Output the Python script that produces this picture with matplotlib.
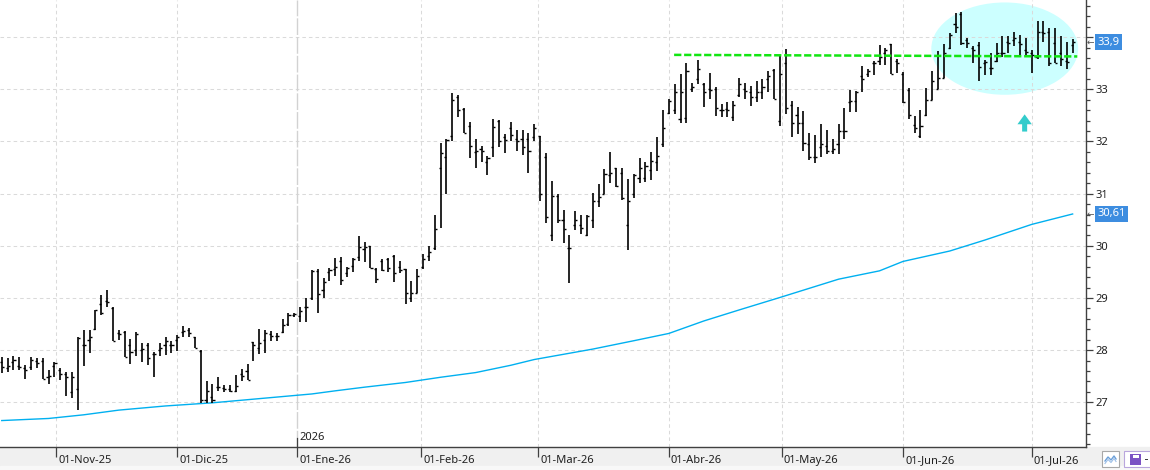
import numpy as np
import pandas as pd
import matplotlib
matplotlib.use("Agg")
import matplotlib.pyplot as plt
import matplotlib.transforms as mtransforms
from matplotlib.collections import LineCollection
from matplotlib.patches import Ellipse, Polygon, Rectangle
from matplotlib.ticker import MultipleLocator

plt.rcParams["font.family"] = ["Noto Sans", "DejaVu Sans"]

# ---------------------------------------------------------------------------
# Data (daily OHLC, Spanish market calendar)
# ---------------------------------------------------------------------------

HOLIDAYS = ["2025-12-25", "2025-12-26", "2026-01-01",
            "2026-04-03", "2026-04-06", "2026-05-01"]
dates = pd.bdate_range("2025-10-20", "2026-07-10")
dates = dates[~dates.isin(pd.to_datetime(HOLIDAYS))]

opens = [
    27.78, 27.65, 27.78, 27.70, 27.65, 27.67, 27.80, 27.80, 27.48, 27.70,
    27.62, 27.55, 27.20, 27.26, 28.09, 28.20, 28.40, 28.88, 28.95, 28.80,
    28.32, 28.35, 28.10, 28.00, 28.00, 28.10, 27.93, 28.00, 28.10, 28.10,
    28.20, 28.35, 28.38, 28.25, 27.98, 27.05, 27.10, 27.30, 27.28, 27.25,
    27.22, 27.54, 27.60, 28.15, 28.05, 28.20, 28.30, 28.28, 28.35, 28.50,
    28.68, 28.65, 28.82, 29.00, 29.52, 29.15, 29.50, 29.55, 29.70, 29.48,
    29.62, 29.78, 29.94, 30.00, 29.56, 29.71, 29.74, 29.80, 29.60, 29.55,
    29.00, 29.10, 29.60, 29.80, 29.95, 31.50, 31.70, 32.11, 32.85, 32.62,
    32.30, 31.80, 31.85, 31.60, 31.90, 32.40, 32.08, 32.25, 32.05, 32.04,
    32.05, 32.08, 32.10, 31.70, 30.21, 30.95, 30.50, 29.95, 30.40, 30.40,
    30.21, 30.50, 30.85, 31.00, 31.35, 31.50, 31.40, 30.40, 30.99, 31.30,
    31.30, 31.45, 31.60, 31.95, 32.55, 32.60, 32.43, 32.45, 33.00, 33.20,
    33.10, 33.00, 33.00, 32.60, 32.62, 32.47, 32.90, 33.00, 32.95, 32.85,
    32.95, 33.20, 33.37, 32.40, 33.50, 32.70, 32.50, 32.35, 31.95, 31.70,
    31.90, 31.92, 31.82, 31.95, 32.20, 32.75, 32.78, 33.25, 33.30, 33.50,
    33.55, 33.70, 33.87, 33.55, 33.30, 32.98, 32.32, 32.10, 32.51, 32.80,
    33.00, 33.21, 33.80, 34.25, 34.45, 33.95, 33.80, 33.85, 33.50, 33.40,
    33.55, 33.70, 33.90, 33.95, 33.90, 33.75, 33.70, 33.62, 34.10, 34.10,
    33.88, 33.70, 33.55, 33.85,
]

highs = [
    27.86, 27.84, 27.89, 27.86, 27.72, 27.86, 27.84, 27.84, 27.62, 27.78,
    27.65, 27.59, 27.59, 28.25, 28.38, 28.39, 28.77, 29.06, 29.15, 28.82,
    28.39, 28.37, 28.21, 28.35, 28.13, 28.14, 27.97, 28.13, 28.25, 28.18,
    28.29, 28.46, 28.42, 28.26, 28.00, 27.40, 27.36, 27.48, 27.33, 27.33,
    27.52, 27.63, 27.73, 28.16, 28.40, 28.39, 28.37, 28.33, 28.59, 28.71,
    28.72, 28.82, 28.99, 29.54, 29.55, 29.38, 29.57, 29.76, 29.78, 29.60,
    29.76, 30.19, 30.07, 30.00, 29.57, 29.74, 29.77, 29.82, 29.71, 29.55,
    29.33, 29.55, 29.84, 30.00, 30.59, 31.98, 32.04, 32.92, 32.89, 32.65,
    32.37, 32.05, 31.91, 31.72, 32.44, 32.42, 32.14, 32.37, 32.22, 32.22,
    32.16, 32.33, 32.10, 31.77, 31.24, 30.99, 30.69, 30.21, 30.67, 30.59,
    30.59, 31.01, 31.18, 31.47, 31.80, 31.50, 31.50, 31.28, 31.37, 31.68,
    31.61, 31.80, 32.09, 32.60, 32.81, 33.10, 33.29, 33.50, 33.13, 33.57,
    33.13, 33.31, 33.04, 32.72, 32.75, 32.78, 33.21, 33.13, 33.06, 33.15,
    33.19, 33.36, 33.38, 33.64, 33.77, 32.78, 32.67, 32.59, 32.16, 32.12,
    32.33, 32.22, 32.04, 32.33, 32.64, 32.99, 32.97, 33.45, 33.39, 33.55,
    33.85, 33.80, 33.87, 33.59, 33.34, 33.02, 32.48, 32.60, 33.02, 33.35,
    33.73, 33.87, 34.07, 34.46, 34.48, 33.99, 33.83, 33.90, 33.57, 33.70,
    33.88, 34.02, 34.03, 34.10, 34.05, 33.99, 33.75, 34.30, 34.31, 34.17,
    34.17, 34.02, 33.91, 33.96,
]

lows = [
    27.57, 27.59, 27.61, 27.62, 27.45, 27.62, 27.65, 27.44, 27.35, 27.49,
    27.43, 27.13, 27.08, 26.85, 27.70, 27.94, 28.39, 28.67, 28.83, 28.18,
    28.20, 27.86, 27.73, 27.89, 27.78, 27.72, 27.49, 27.89, 27.91, 27.94,
    27.99, 28.26, 28.25, 28.04, 26.99, 26.99, 26.99, 27.22, 27.19, 27.19,
    27.20, 27.41, 27.42, 27.80, 27.92, 27.95, 28.18, 28.18, 28.32, 28.46,
    28.63, 28.53, 28.53, 28.97, 28.71, 29.00, 29.33, 29.42, 29.24, 29.41,
    29.50, 29.70, 29.68, 29.58, 29.28, 29.52, 29.50, 29.31, 29.47, 28.88,
    28.93, 29.09, 29.55, 29.70, 29.92, 30.35, 30.99, 32.00, 32.46, 32.16,
    31.69, 31.50, 31.60, 31.36, 31.71, 31.90, 31.77, 32.00, 31.82, 31.74,
    31.40, 32.00, 30.85, 30.43, 30.10, 30.44, 30.06, 29.29, 30.30, 30.23,
    30.18, 30.34, 30.75, 30.99, 31.20, 31.13, 30.88, 29.92, 30.91, 31.20,
    31.23, 31.27, 31.44, 31.89, 32.52, 32.52, 32.36, 32.36, 32.94, 33.10,
    32.67, 32.81, 32.49, 32.46, 32.46, 32.39, 32.85, 32.81, 32.68, 32.75,
    32.81, 32.95, 32.81, 32.30, 32.53, 32.08, 32.14, 31.82, 31.64, 31.59,
    31.70, 31.76, 31.76, 31.76, 32.05, 32.57, 32.57, 32.94, 33.24, 33.27,
    33.47, 33.47, 33.29, 33.31, 32.73, 32.44, 32.17, 32.06, 32.49, 32.80,
    33.00, 33.21, 33.77, 34.07, 33.85, 33.80, 33.51, 33.15, 33.27, 33.27,
    33.52, 33.61, 33.70, 33.83, 33.66, 33.66, 33.31, 33.59, 33.91, 33.44,
    33.50, 33.45, 33.38, 33.70,
]

closes = [
    27.67, 27.70, 27.81, 27.68, 27.62, 27.81, 27.75, 27.45, 27.50, 27.75,
    27.55, 27.49, 27.48, 28.24, 28.09, 28.25, 28.77, 28.71, 28.92, 28.18,
    28.30, 27.87, 27.97, 28.30, 28.03, 27.85, 27.92, 28.05, 28.17, 28.10,
    28.25, 28.36, 28.33, 28.04, 27.05, 27.22, 27.05, 27.29, 27.25, 27.22,
    27.31, 27.50, 27.43, 28.10, 28.14, 28.33, 28.27, 28.27, 28.49, 28.68,
    28.69, 28.75, 28.82, 29.52, 29.07, 29.30, 29.53, 29.60, 29.35, 29.57,
    29.75, 29.97, 29.97, 29.58, 29.37, 29.54, 29.57, 29.47, 29.53, 29.09,
    29.10, 29.42, 29.75, 29.88, 30.32, 31.77, 32.02, 32.79, 32.60, 32.16,
    31.92, 31.82, 31.82, 31.68, 32.27, 32.00, 32.03, 32.12, 32.01, 31.90,
    31.82, 32.25, 30.99, 30.56, 30.95, 30.50, 30.32, 29.95, 30.50, 30.35,
    30.57, 30.85, 30.93, 31.37, 31.40, 31.14, 30.91, 30.86, 31.36, 31.50,
    31.53, 31.62, 31.72, 32.25, 32.77, 32.95, 32.95, 33.35, 33.05, 33.38,
    32.95, 32.98, 32.65, 32.60, 32.60, 32.70, 33.10, 32.97, 32.85, 32.95,
    33.05, 33.25, 32.82, 33.30, 32.64, 32.35, 32.35, 31.97, 31.70, 31.70,
    31.96, 31.82, 31.85, 32.20, 32.20, 32.78, 32.95, 33.20, 33.35, 33.50,
    33.62, 33.75, 33.30, 33.50, 32.75, 32.50, 32.25, 32.30, 32.80, 33.15,
    33.21, 33.69, 34.05, 34.19, 33.88, 33.89, 33.75, 33.42, 33.52, 33.40,
    33.69, 33.69, 33.89, 33.98, 33.87, 33.72, 33.65, 34.10, 34.07, 33.51,
    33.51, 33.58, 33.52, 33.90,
]

# long moving average, read at a handful of bars
ma_bars = [0, 8, 14, 20, 28, 36, 45, 53, 57, 62, 69, 75, 81, 87, 91,
           101, 108, 114, 120, 126, 133, 137, 143, 150, 154, 162, 168, 176, 183]
ma_values = [26.65, 26.69, 26.76, 26.85, 26.93, 26.99, 27.08, 27.16, 27.22,
             27.29, 27.38, 27.48, 27.57, 27.71, 27.82, 28.02, 28.18, 28.32,
             28.56, 28.77, 29.01, 29.15, 29.36, 29.52, 29.70, 29.90, 30.11,
             30.41, 30.61]

# resistance line (green, dashed)
resistance_bars = [114.9, 183.8]
resistance_values = [33.66, 33.63]

month_starts = ["2025-11-01", "2025-12-01", "2026-01-01", "2026-02-01",
                "2026-03-01", "2026-04-01", "2026-05-01", "2026-06-01",
                "2026-07-01"]
month_labels = ["01-Nov-25", "01-Dic-25", "01-Ene-26", "01-Feb-26",
                "01-Mar-26", "01-Abr-26", "01-May-26", "01-Jun-26",
                "01-Jul-26"]
year_start = "2026-01-01"
year_label = "2026"

price_ticks = [27, 28, 29, 30, 31, 32, 33, 34]


# ---------------------------------------------------------------------------
# Layout helpers
# ---------------------------------------------------------------------------

W, H = 1150, 470
AX_RIGHT_PX = 1085.5
AX_BOTTOM_PX = 447

fig = plt.figure(figsize=(W / 100, H / 100), dpi=100)
fig.patch.set_facecolor("white")

# grey date band under the plot (zorder below the axes so labels stay on top)
fig.patches.append(Rectangle((0, 0), 1, (H - AX_BOTTOM_PX) / H,
                             transform=fig.transFigure, color="#f0f0f0", zorder=-2))
fig.patches.append(Rectangle((0, 0), 1, 4 / H,
                             transform=fig.transFigure, color="#f8f8f8", zorder=-1))

ax = fig.add_axes([0, (H - AX_BOTTOM_PX) / H, AX_RIGHT_PX / W, AX_BOTTOM_PX / H])
ax.set_facecolor("white")

n = len(closes)
idx = np.arange(n)
day_num = dates.values.astype("datetime64[D]").astype(float)


def date_pos(d):
    d = np.datetime64(pd.Timestamp(d).date(), "D").astype(float)
    return float(np.interp(d, day_num, idx))


month_pos = [date_pos(d) for d in month_starts]
year_pos = date_pos(year_start)

ax.set_xlim(-0.3, 185.2)
ax.set_ylim(26.143, 34.712)

# ---------------------------------------------------------------------------
# Grid (drawn by hand so the ellipse/arrow sit under it, bars above it)
# ---------------------------------------------------------------------------

grid_kw = dict(color="#dadada", lw=0.75, linestyle=(0, (3.4, 2.9)), zorder=1)
for p in price_ticks:
    ax.axhline(p, **grid_kw)
for pos in month_pos:
    if abs(pos - year_pos) < 1e-6:
        continue
    ax.axvline(pos, **grid_kw)
ax.axvline(year_pos, color="#d2d2d2", lw=1.0, linestyle=(0, (12, 1.5)), zorder=1)

# ---------------------------------------------------------------------------
# Annotations: highlight ellipse + arrow
# ---------------------------------------------------------------------------

ax.add_patch(Ellipse((171.4, 33.78), 25.1, 1.77, facecolor="#ccffff",
                     edgecolor="none", zorder=0.5))

ax_x, tip, head_base, tail = 174.8, 32.52, 32.33, 32.19
hw, sw = 1.23, 0.43
arrow = Polygon([(ax_x, tip), (ax_x + hw, head_base), (ax_x + sw, head_base),
                 (ax_x + sw, tail), (ax_x - sw, tail), (ax_x - sw, head_base),
                 (ax_x - hw, head_base)], closed=True,
                facecolor="#33cccc", edgecolor="none", zorder=0.6)
ax.add_patch(arrow)

# ---------------------------------------------------------------------------
# Moving average and OHLC bars
# ---------------------------------------------------------------------------

ax.plot(ma_bars, ma_values, color="#00b0f0", lw=1.0, zorder=1.5)

tick_w = 0.36
hl = [[(i, l), (i, h)] for i, h, l in zip(idx, highs, lows)]
oc = ([[(i - tick_w, o), (i, o)] for i, o in zip(idx, opens)]
      + [[(i, c), (i + tick_w, c)] for i, c in zip(idx, closes)])
ax.add_collection(LineCollection(hl, colors="black", linewidths=1.2,
                                 capstyle="butt", zorder=2))
ax.add_collection(LineCollection(oc, colors="black", linewidths=1.0,
                                 capstyle="butt", zorder=2))

ax.plot(resistance_bars, resistance_values, color="#11e611", lw=1.8,
        linestyle=(0, (2.9, 1.1)), zorder=3)

# ---------------------------------------------------------------------------
# Axes styling
# ---------------------------------------------------------------------------

for side in ["left", "top"]:
    ax.spines[side].set_visible(False)
for side in ["right", "bottom"]:
    ax.spines[side].set_color("#404040")
    ax.spines[side].set_linewidth(1.0)

ax.yaxis.tick_right()
ax.set_yticks(price_ticks)
ax.set_yticklabels([str(p) if p < 34 else "" for p in price_ticks])
ax.yaxis.set_minor_locator(MultipleLocator(0.2))
ax.tick_params(axis="y", which="major", length=5, width=0.9, color="#404040",
               labelsize=8, labelcolor="#202020", pad=2.5)
ax.tick_params(axis="y", which="minor", length=2.8, width=0.9, color="#404040")

ax.set_xticks(month_pos)
ax.set_xticklabels(month_labels)
ax.tick_params(axis="x", which="major", length=7, width=0.9, color="#404040",
               labelsize=8, labelcolor="#202020", pad=-1.5)
shift = mtransforms.ScaledTranslation(1.5 / 72, 0, fig.dpi_scale_trans)
for lab in ax.get_xticklabels():
    lab.set_horizontalalignment("left")
    lab.set_transform(lab.get_transform() + shift)

# year separator label
blend = mtransforms.blended_transform_factory(ax.transData, ax.transAxes)
ax.plot([year_pos, year_pos], [0, 9 / AX_BOTTOM_PX], color="#404040", lw=0.9,
        transform=blend, clip_on=False, zorder=4)
ax.text(year_pos + 0.35, 4 / AX_BOTTOM_PX, year_label, transform=blend,
        fontsize=8, color="#202020", ha="left", va="bottom")

# last-value boxes on the price scale
yblend = mtransforms.blended_transform_factory(ax.transAxes, ax.transData)
for val in [closes[-1], ma_values[-1]]:
    txt = f"{val:g}".replace(".", ",")
    ax.text(1 + 11.5 / AX_RIGHT_PX, val, txt, transform=yblend, fontsize=8,
            color="white", ha="left", va="center", clip_on=False, zorder=5,
            bbox=dict(boxstyle="square,pad=0.22", facecolor="#3d8de0",
                      edgecolor="none"))
    ax.text(1 + 1.5 / AX_RIGHT_PX, val, "\u2190", transform=yblend, fontsize=6.5,
            color="#505050", ha="left", va="center", clip_on=False,
            family="DejaVu Sans", zorder=5)

# small toolbar icons in the bottom-right corner
def px_rect(x0, y0, x1, y1, **kw):
    fig.patches.append(Rectangle((x0 / W, 1 - y1 / H), (x1 - x0) / W, (y1 - y0) / H,
                                 transform=fig.transFigure, **kw))


px_rect(1102, 451, 1119, 467, facecolor="white", edgecolor="#a8a8a8", lw=0.8, zorder=3)
px_rect(1124, 451, 1152, 467, facecolor="white", edgecolor="#b9a6dd", lw=0.8, zorder=3)
px_rect(1130, 453.5, 1141, 464.5, facecolor="#7b52c4", edgecolor="none", zorder=4)
px_rect(1132.5, 454.5, 1138.5, 458, facecolor="white", edgecolor="none", zorder=5)
px_rect(1145, 458.5, 1148, 459.5, facecolor="#404040", edgecolor="none", zorder=5)
zig_x = np.array([1105, 1108, 1111, 1114, 1116]) / W
zig_y = 1 - np.array([461, 457, 460, 456, 459]) / H
fig.lines.append(plt.Line2D(zig_x, zig_y, transform=fig.transFigure,
                            color="#6b9fd8", lw=1.0, zorder=4))
fig.lines.append(plt.Line2D(zig_x, zig_y - 2.5 / H, transform=fig.transFigure,
                            color="#9ec0e8", lw=0.8, zorder=4))

fig.savefig("out.png", dpi=100)
